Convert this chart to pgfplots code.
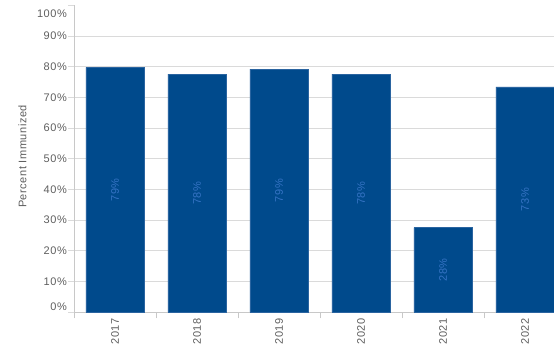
\documentclass[border=0pt]{standalone}
\usepackage{fontspec}
\setmainfont{Liberation Sans}[LetterSpace=5]
\usepackage{pgfplots}
\pgfplotsset{compat=1.18}
\definecolor{barblue}{HTML}{004A8C}
\definecolor{baredge}{HTML}{2A64A0}
\definecolor{lblblue}{HTML}{3573C4}
\definecolor{txtgray}{HTML}{5E5E5E}
\definecolor{gridgray}{HTML}{DADADA}
\definecolor{axgray}{HTML}{C8C8C8}
\newcommand{\shiftlbl}[2]{\vphantom{#2}\smash{\raisebox{#1}{#2}}}
\begin{document}
\begin{tikzpicture}[font=\fontsize{11}{13}\selectfont]
\path[use as bounding box] (0,0) rectangle (554pt,347pt);
\begin{axis}[
  at={(74pt,34.7pt)}, anchor=south west,
  scale only axis, width=480pt, height=307pt,
  xmin=-0.5, xmax=5.354, ymin=0, ymax=100,
  axis x line*=bottom, axis y line*=left,
  axis line style={-, draw=axgray, line width=0.8pt},
  tick align=outside,
  major tick length=6pt, minor tick length=6pt,
  xtick={0,...,5}, xticklabels={2017,2018,2019,2020,2021,2022},
  x tick style={draw=none},
  minor xtick={-0.5,0.5,...,4.5},
  minor x tick style={draw=axgray, line width=0.8pt},
  xticklabel style={rotate=90, anchor=east, inner sep=0pt, text=txtgray},
  ytick={0,10,...,90},
  yticklabels={\shiftlbl{6pt}{0\%},10\%,20\%,30\%,40\%,50\%,60\%,70\%,80\%,90\%},
  extra y ticks={100},
  extra y tick labels={\shiftlbl{-8pt}{100\%}},
  extra y tick style={grid=none},
  y tick style={draw=gridgray, line width=0.8pt},
  yticklabel style={text=txtgray, inner sep=1pt},
  ymajorgrids, grid style={draw=gridgray, line width=0.9pt},
  ylabel={Percent Immunized},
  ylabel style={at={(axis description cs:-0.1073,0.5075)}, anchor=center, text=txtgray},
]
\addplot[ybar, bar width=58pt, fill=barblue, draw=baredge, line width=0.5pt,
  nodes near coords, point meta=explicit symbolic,
  visualization depends on=y \as \rawy,
  every node near coord/.append style={shift={(axis direction cs:0,-\rawy/2)}, rotate=90, anchor=center, text=lblblue}]
coordinates {(0,79.75)[79\%] (1,77.6)[78\%] (2,79.2)[79\%] (3,77.6)[78\%] (4,27.6)[28\%] (5,73.4)[73\%]};
\end{axis}
\end{tikzpicture}
\end{document}
